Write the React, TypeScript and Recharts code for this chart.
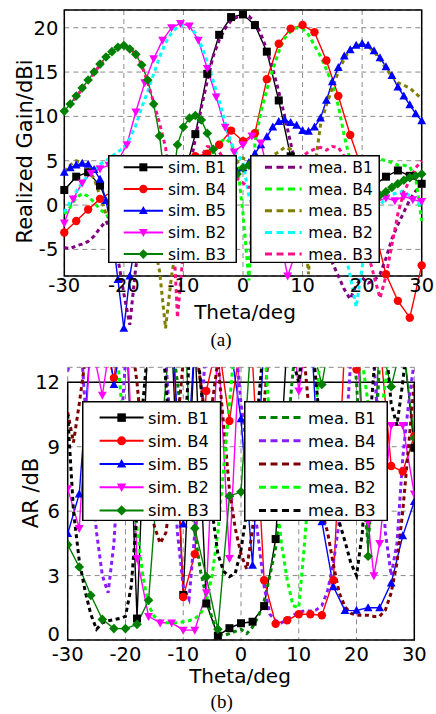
import React from 'react';
import { LineChart, Line, XAxis, YAxis, CartesianGrid, ReferenceArea } from 'recharts';

const FONT = "'DejaVu Sans', 'Liberation Sans', sans-serif";

// ---------- angle grids ----------
const thetaStep2 = [-30, -28, -26, -24, -22, -20, -18, -16, -14, -12, -10, -8, -6, -4, -2, 0, 2, 4, 6, 8, 10, 12, 14, 16, 18, 20, 22, 24, 26, 28, 30];
const thetaStep1 = [-30, -29, -28, -27, -26, -25, -24, -23, -22, -21, -20, -19, -18, -17, -16, -15, -14, -13, -12, -11, -10, -9, -8, -7, -6, -5, -4, -3, -2, -1, 0, 1, 2, 3, 4, 5, 6, 7, 8, 9, 10, 11, 12, 13, 14, 15, 16, 17, 18, 19, 20, 21, 22, 23, 24, 25, 26, 27, 28, 29, 30];
const thetaStep15 = [-30, -28.5, -27, -25.5, -24, -22.5, -21, -19.5, -18, -16.5, -15, -13.5, -12, -10.5, -9, -7.5, -6, -4.5, -3, -1.5, 0, 1.5, 3, 4.5, 6, 7.5, 9, 10.5, 12, 13.5, 15, 16.5, 18, 19.5, 21, 22.5, 24, 25.5, 27, 28.5, 30];
const thetaB2AR = [-30, -28, -26, -24, -22, -20, -18, -16, -14, -12, -10, -8, -6, -4, -2, 0, 2, 4, 6, 8, 10, 12, 14, 16, 18, 20, 22, 23, 24, 26, 28, 30];

// ---------- tick labels / tick marks ----------
const thetaTicks = [-30, -20, -10, 0, 10, 20, 30];
const thetaMarks = [-25, -20, -15, -10, -5, 0, 5, 10, 15, 20, 25];
const gainTicks = [-5, 0, 5, 10, 15, 20];
const gainMarks = [-7.5, -5, -2.5, 0, 2.5, 5, 7.5, 10, 12.5, 15, 17.5, 20];
const arTicks = [0, 3, 6, 9, 12];
const arMarks = [1.5, 3, 4.5, 6, 7.5, 9, 10.5];

// ---------- (a) realized gain, simulated ----------
const gainSimB1 = [1.7, 3.2, 3.7, 2.2, -1.0, -4.0, -3.0, -1.0, -2.0, -1.0, 3.0, 8.0, 14.8, 19.2, 21.2, 21.5, 20.3, 17.3, 11.8, 5.5, -2.0, -6.0, -3.0, -1.0, 0.0, 1.0, 2.2, 3.2, 3.9, 3.3, 2.4];
const gainSimB4 = [-3.1, -1.8, -0.5, 0.7, 1.5, 1.0, 0.0, -1.0, 0.5, 2.0, 4.0, 5.5, 5.8, 6.8, 8.4, 7.2, 8.1, 14.2, 18.2, 19.9, 20.3, 19.5, 16.3, 12.3, 7.9, 4.0, -2.5, -7.8, -10.8, -12.7, -6.8];
const gainSimB5 = [3.7, 4.2, 4.5, 4.7, 4.6, 4.0, 2.9, 0.5, -3.0, -8.4, -13.9, -8.0, -4.0, -2.0, -1.0, 0.0, 0.5, 0.8, 1.0, 1.2, 1.5, 1.8, 2.0, 2.5, 3.0, 3.2, 3.5, 3.6, 3.6, 3.8, 4.2, 4.8, 5.8, 6.8, 7.7, 8.8, 9.4, 9.6, 9.3, 9.0, 8.4, 8.3, 8.8, 9.8, 11.8, 13.9, 15.5, 16.8, 17.5, 18.0, 18.2, 18.0, 17.4, 16.6, 15.6, 14.6, 13.3, 12.3, 11.3, 10.3, 9.5];
const gainSimB2 = [-2.0, 0.7, 2.5, 3.6, 4.1, 4.5, 5.0, 6.8, 10.5, 13.8, 16.5, 18.6, 20.0, 20.5, 20.2, 18.6, 15.4, 12.2, 8.8, 6.0, 6.8, 7.8, 7.0, 3.0, -3.0, -8.0, -5.0, -3.0, -2.0, -1.5, -1.0, -0.5, 0.0, 0.3, 0.5, 0.4, 0.8, 0.5, 1.0, 0.6, 0.4];
const gainSimB3 = [10.6, 11.4, 12.3, 13.2, 14.1, 15.0, 15.9, 16.7, 17.3, 17.8, 18.0, 17.6, 17.0, 15.8, 14.1, 11.4, 7.8, 2.0, 1.5, 6.8, 8.8, 9.8, 10.1, 9.6, 8.1, 6.3, 4.8, 3.5, 3.0, 3.5, 4.2, 4.5, 4.0, 2.0, 0.0, -1.0, -2.0, -1.5, -1.0, -0.5, 0.0, 0.5, 1.0, 0.5, 0.0, -0.5, -1.0, -0.5, 0.0, 0.3, 0.5, 0.7, 0.9, 1.1, 1.5, 2.0, 2.4, 2.8, 3.1, 3.3, 3.5];

// ---------- (a) realized gain, measured ----------
const gainMeaB1 = [-4.8, -4.9, -4.6, -4.4, -4.1, -3.5, -2.6, -1.8, -3.0, -6.0, -10.0, -13.5, -7.0, -3.0, -1.0, 0.0, 0.5, 1.0, 0.0, -1.0, 1.0, 4.0, 7.5, 11.0, 14.0, 16.8, 18.6, 19.9, 20.8, 21.2, 21.4, 21.3, 20.6, 19.3, 17.5, 15.3, 12.8, 10.0, 7.0, 4.0, 1.0, -2.0, -4.0, -4.5, -5.0, -6.5, -8.0, -9.5, -10.6, -9.0, -8.2, -8.8, -8.5, -7.8, -6.0, -3.8, -2.2, -0.8, 0.6, 1.6, 2.0];
const gainMeaB4 = [-1.0, -0.2, 0.8, 1.3, 1.0, 0.3, -0.5, -1.0, -2.0, -3.0, -3.5, -3.0, -2.0, -1.5, -1.0, -0.5, 0.0, 0.5, 1.0, 2.0, 3.0, 3.5, 4.0, 4.5, 5.0, 6.0, 7.0, 7.5, 7.0, 5.0, -1.0, -8.5, 7.0, 10.5, 13.0, 15.3, 17.3, 18.8, 19.6, 20.0, 19.9, 19.2, 18.0, 16.8, 15.3, 13.6, 11.2, 7.8, 5.0, 3.5, 3.8, 4.5, 5.0, 5.2, 5.0, 4.8, 4.5, 4.5, 4.3, 3.0, -1.8];
const gainMeaB5 = [3.8, 4.5, 5.0, 4.8, 4.0, 3.0, 1.0, -1.0, -2.0, -1.0, 0.0, 0.5, 0.0, -1.0, -2.0, -4.0, -7.5, -13.9, -8.0, -4.0, -2.0, -1.0, 0.0, 1.0, 2.0, 2.5, 3.0, 3.5, 4.0, 4.8, 5.3, 5.0, 4.6, 4.8, 5.2, 5.6, 6.0, 6.5, 6.3, 5.0, 0.0, -7.8, 4.0, 9.0, 11.3, 13.2, 15.0, 16.5, 17.5, 18.0, 18.1, 17.9, 17.3, 16.4, 15.4, 14.5, 13.8, 13.5, 13.2, 12.6, 12.0];
const gainMeaB2 = [-0.8, 0.4, 1.5, 2.6, 3.3, 4.0, 4.6, 5.0, 5.5, 6.0, 6.5, 7.5, 9.0, 11.0, 12.8, 14.8, 16.7, 18.3, 19.4, 20.1, 20.3, 20.1, 19.4, 18.0, 16.2, 14.0, 11.8, 9.3, 7.0, 5.8, 4.8, 1.0, -1.0, -2.0, -3.0, -3.5, -4.0, -5.0, -3.5, -2.5, -3.0, -4.0, -3.0, -2.0, -1.5, -2.0, -3.0, -5.0, -8.0, -11.5, -7.0, -3.0, -1.0, 0.0, 0.8, 1.2, 1.4, 1.6, 1.0, 0.3, 0.0];
const gainMeaB3 = [10.5, 11.3, 12.2, 13.1, 14.0, 14.9, 15.8, 16.6, 17.2, 17.7, 17.9, 17.7, 17.0, 15.8, 13.8, 11.6, 9.2, 6.5, 1.0, -12.7, -5.0, 0.0, 3.0, 5.5, 6.6, 6.5, 6.0, 5.0, 4.0, 3.0, 2.5, 2.0, 2.0, 2.5, 3.0, 3.5, 4.0, 4.5, 4.8, 5.0, 5.5, 6.0, 6.3, 6.5, 6.2, 6.6, 6.5, 5.5, 3.5, 0.5, -3.0, -5.5, -8.0, -10.5, -8.0, -4.5, -1.0, 1.5, 2.8, 4.2, 5.0];

// ---------- (b) axial ratio, simulated ----------
const arSimB1 = [14, 16, 13.5, 15, 14, 16, 1.0, 15, 17, 14, 2.1, 14, 1.7, 0.2, 0.55, 0.78, 0.85, 1.58, 4.7, 14, 16, 13.5, 15, 14, 16, 13.5, 15, 14, 16, 14, 8.95];
const arSimB4 = [16, 14, 17, 14, 12.2, 16, 14, 17, 15, 16, 2.0, 4.0, 11.6, 14, 10.2, 14, 13, 2.78, 0.76, 0.92, 1.2, 1.2, 1.15, 2.78, 14, 12.6, 16, 14, 8.1, 7.85, 9.5];
const arSimB5 = [4.95, 6.8, 14, 16, 11.9, 15, 14, 16, 14, 15, 5.4, 14, 15, 16, 14, 10.3, 3.48, 14, 15, 17, 14, 15, 5.5, 2.48, 1.37, 1.38, 1.5, 1.5, 2.65, 4.85, 6.45];
const arSimB2 = [7.05, 5.2, 14, 11.4, 15, 16, 3.8, 1.1, 0.8, 0.8, 0.46, 0.46, 2.2, 14, 3.8, 15, 16, 14, 15, 17, 11.6, 15, 16, 14, 15, 14, 5.5, 3.0, 4.5, 10.0, 10.0, 6.8];
const arSimB3 = [4.44, 3.4, 2.08, 0.96, 0.53, 0.53, 0.73, 1.85, 9, 15, 16, 5.2, 2.94, 0.5, 6.7, 6.9, 15, 16, 14, 15, 16, 14, 11.9, 15, 14, 16, 3.9, 14, 11.8, 14, 9.4];

// ---------- (b) axial ratio, measured ----------
const arMeaB1 = [15, 14, 15, 16, 14, 15, 13, 15, 16, 14, 15, 16, 14, 15, 13, 14, 16, 15, 14, 12, 9.5, 7, 5, 3.2, 2.0, 1.0, 0.3, 0.2, 0.3, 0.4, 0.5, 0.3, 0.6, 1.1, 1.8, 3.0, 4.3, 6.5, 9.5, 12.5, 15, 14, 15, 16, 14, 13, 15, 16, 14, 15, 12, 7, 4.5, 8, 13, 15, 16, 14, 15, 16, 14];
const arMeaB4 = [12.5, 14, 15, 11, 8, 5.0, 3.0, 2.2, 4.5, 9, 13, 15, 14, 16, 14, 15, 16, 13, 9, 5, 2.5, 1.9, 5, 10, 14, 15, 13, 14, 16, 14, 11, 9, 7, 4.7, 2.5, 1.2, 0.9, 0.8, 0.95, 1.15, 1.3, 1.35, 1.35, 1.4, 1.6, 2.3, 3.6, 5.5, 9, 13, 15, 14, 16, 13, 9, 5, 3.0, 4.5, 8.5, 11, 13];
const arMeaB5 = [10.6, 9.2, 11, 13, 15, 14, 13, 15, 16, 14, 13, 14, 12, 9, 7, 5.3, 4.5, 5.0, 7, 10, 13, 15, 14, 12, 10, 11, 13, 10, 7, 5.2, 4.0, 3.3, 5.2, 8, 11, 14, 15, 13, 14, 16, 14, 13, 10, 7.5, 6, 5.0, 3.5, 2.2, 1.55, 1.25, 1.15, 1.15, 1.15, 1.1, 1.1, 1.4, 2.2, 3.6, 6, 9, 12];
const arMeaB2 = [13, 15, 14, 16, 15, 13, 14, 16, 15, 12, 9, 7, 5.2, 3.0, 1.6, 1.1, 0.9, 0.8, 0.8, 0.8, 0.85, 0.9, 1.0, 1.2, 1.8, 3.0, 5.0, 8.0, 11, 14, 15, 13, 14, 16, 14, 10, 7, 4.5, 2.8, 1.6, 1.5, 4.5, 8, 11, 14, 16, 15, 13, 14, 16, 15, 13, 11, 9, 10, 12, 14, 16, 15, 13, 14];
const arMeaB3 = [10.5, 6.0, 3.7, 2.3, 1.2, 0.5, 0.8, 0.9, 0.95, 1.0, 1.1, 2.5, 6, 11, 14, 13, 15, 12, 8, 6, 8, 13, 15, 12, 9, 6, 4, 3.2, 2.95, 3.1, 4.2, 6, 8, 11, 14, 15, 13, 14, 16, 13, 12, 14, 15, 12, 9, 7, 6, 5.5, 4.6, 3.6, 3.0, 5, 9, 12.5, 15, 14, 11, 10, 12, 14.5, 13];

// ---------- styles ----------
const COL = {
  black: '#000000', red: '#ff0000', blue: '#0000ff', magenta: '#ff00ff', green: '#008000',
  purple: '#800080', lime: '#00ff00', olive: '#808000', cyan: '#00ffff', pink: '#ff1089',
  violet: '#8b1cff', maroon: '#800000',
};

type Shape = 'square' | 'circle' | 'up' | 'down' | 'diamond';
interface Series { id: string; label: string; color: string; shape?: Shape; xs: number[]; ys: number[]; }

const simA: Series[] = [
  { id: 'a-sim-b1', label: 'sim. B1', color: COL.black, shape: 'square', xs: thetaStep2, ys: gainSimB1 },
  { id: 'a-sim-b4', label: 'sim. B4', color: COL.red, shape: 'circle', xs: thetaStep2, ys: gainSimB4 },
  { id: 'a-sim-b5', label: 'sim. B5', color: COL.blue, shape: 'up', xs: thetaStep1, ys: gainSimB5 },
  { id: 'a-sim-b2', label: 'sim. B2', color: COL.magenta, shape: 'down', xs: thetaStep15, ys: gainSimB2 },
  { id: 'a-sim-b3', label: 'sim. B3', color: COL.green, shape: 'diamond', xs: thetaStep1, ys: gainSimB3 },
];
const meaA: Series[] = [
  { id: 'a-mea-b1', label: 'mea. B1', color: COL.purple, xs: thetaStep1, ys: gainMeaB1 },
  { id: 'a-mea-b4', label: 'mea. B4', color: COL.lime, xs: thetaStep1, ys: gainMeaB4 },
  { id: 'a-mea-b5', label: 'mea. B5', color: COL.olive, xs: thetaStep1, ys: gainMeaB5 },
  { id: 'a-mea-b2', label: 'mea. B2', color: COL.cyan, xs: thetaStep1, ys: gainMeaB2 },
  { id: 'a-mea-b3', label: 'mea. B3', color: COL.pink, xs: thetaStep1, ys: gainMeaB3 },
];
const simB: Series[] = [
  { id: 'b-sim-b1', label: 'sim. B1', color: COL.black, shape: 'square', xs: thetaStep2, ys: arSimB1 },
  { id: 'b-sim-b4', label: 'sim. B4', color: COL.red, shape: 'circle', xs: thetaStep2, ys: arSimB4 },
  { id: 'b-sim-b5', label: 'sim. B5', color: COL.blue, shape: 'up', xs: thetaStep2, ys: arSimB5 },
  { id: 'b-sim-b2', label: 'sim. B2', color: COL.magenta, shape: 'down', xs: thetaB2AR, ys: arSimB2 },
  { id: 'b-sim-b3', label: 'sim. B3', color: COL.green, shape: 'diamond', xs: thetaStep2, ys: arSimB3 },
];
const meaB: Series[] = [
  { id: 'b-mea-b1', label: 'mea. B1', color: COL.green, xs: thetaStep1, ys: arMeaB1 },
  { id: 'b-mea-b4', label: 'mea. B4', color: COL.violet, xs: thetaStep1, ys: arMeaB4 },
  { id: 'b-mea-b5', label: 'mea. B5', color: COL.maroon, xs: thetaStep1, ys: arMeaB5 },
  { id: 'b-mea-b2', label: 'mea. B2', color: COL.lime, xs: thetaStep1, ys: arMeaB2 },
  { id: 'b-mea-b3', label: 'mea. B3', color: COL.black, xs: thetaStep1, ys: arMeaB3 },
];

const toRows = (xs: number[], ys: number[]) => xs.map((x, i) => ({ x, y: ys[i] }));

function MarkerShape({ cx, cy, shape, color, size }: { cx: number; cy: number; shape: Shape; color: string; size: number }) {
  const h = size / 2;
  switch (shape) {
    case 'square':
      return <rect x={cx - h} y={cy - h} width={size} height={size} fill={color} />;
    case 'circle':
      return <circle cx={cx} cy={cy} r={h * 1.05} fill={color} />;
    case 'up':
      return <polygon points={`${cx},${cy - h * 1.15} ${cx + h * 1.1},${cy + h * 0.85} ${cx - h * 1.1},${cy + h * 0.85}`} fill={color} />;
    case 'down':
      return <polygon points={`${cx},${cy + h * 1.15} ${cx + h * 1.1},${cy - h * 0.85} ${cx - h * 1.1},${cy - h * 0.85}`} fill={color} />;
    case 'diamond':
    default:
      return <polygon points={`${cx},${cy - h * 1.2} ${cx + h * 1.2},${cy} ${cx},${cy + h * 1.2} ${cx - h * 1.2},${cy}`} fill={color} />;
  }
}

const dotRenderer = (s: Series, size: number) => (p: any) => {
  const key = `${s.id}-${p.index}`;
  if (p.cx == null || p.cy == null || Number.isNaN(p.cx) || Number.isNaN(p.cy)) return <g key={key} />;
  return (
    <g key={key}>
      <MarkerShape cx={p.cx} cy={p.cy} shape={s.shape as Shape} color={s.color} size={size} />
    </g>
  );
};

function simLine(s: Series, size: number) {
  return (
    <Line key={s.id} xAxisId="main" yAxisId="main" data={toRows(s.xs, s.ys)} dataKey="y" type="linear" stroke={s.color} strokeWidth={1.4}
      dot={dotRenderer(s, size)} activeDot={false} isAnimationActive={false} legendType="none" />
  );
}
function meaLine(s: Series) {
  return (
    <Line key={s.id} xAxisId="main" yAxisId="main" data={toRows(s.xs, s.ys)} dataKey="y" type="linear" stroke={s.color} strokeWidth={3}
      strokeDasharray="4 3.5" dot={false} activeDot={false} isAnimationActive={false} legendType="none" />
  );
}

const tickStyle = { fontSize: 19.5, fill: '#000', fontFamily: FONT };
const markLine = { stroke: '#000', strokeWidth: 1 };

// the "0" label of the AR axis sits just above the bottom frame, as in the figure
const arYTick = (p: any) => (
  <text x={p.x} y={p.y + (p.payload.value === 0 ? -6 : 0)} dy="0.355em" textAnchor="end"
    fontSize={19.5} fontFamily={FONT} fill="#000">{p.payload.value}</text>
);

function LegendBox({ left, top, width, height, items, firstY, gap, x1, x2, textX, fontSize, measured, markerSize }:
  { left: number; top: number; width: number; height: number; items: Series[]; firstY: number; gap: number; x1: number; x2: number; textX: number; fontSize: number; measured: boolean; markerSize: number }) {
  return (
    <svg style={{ position: 'absolute', left, top }} width={width} height={height}>
      <rect x={0.75} y={0.75} width={width - 1.5} height={height - 1.5} fill="#fff" stroke="#000" strokeWidth={1.5} />
      {items.map((it, i) => {
        const y = firstY + i * gap;
        return (
          <g key={it.id}>
            {measured ? (
              <line x1={x1} x2={x2} y1={y} y2={y} stroke={it.color} strokeWidth={3} strokeDasharray="7 4.5" />
            ) : (
              <>
                <line x1={x1} x2={x2} y1={y} y2={y} stroke={it.color} strokeWidth={2} />
                <MarkerShape cx={(x1 + x2) / 2} cy={y} shape={it.shape as Shape} color={it.color} size={markerSize} />
              </>
            )}
            <text x={textX} y={y + fontSize * 0.37} fontSize={fontSize} fontFamily={FONT} fill="#000">{it.label}</text>
          </g>
        );
      })}
    </svg>
  );
}

export default function App() {
  return (
    <div style={{ position: 'absolute', left: 0, top: 0, width: 436, height: 714, background: '#fff', overflow: 'hidden' }}>
      <style>{`.gain-chart [clip-path]{clip-path:none !important;} .gain-chart svg{overflow:visible;}`}</style>

      {/* (a) realized gain */}
      <div className="gain-chart" style={{ position: 'absolute', left: 0, top: 0 }}>
        <LineChart width={436} height={306} margin={{ top: 10, right: 14.3, bottom: 0, left: 0 }}>
          <CartesianGrid xAxisId="main" yAxisId="main" stroke="#8a8a8a" strokeDasharray="5 4" strokeWidth={1} />
          {/* inward tick marks on the frame */}
          <XAxis xAxisId="markBottom" orientation="bottom" mirror type="number" domain={[-30, 30]} ticks={thetaMarks} allowDataOverflow interval={0}
            height={0} axisLine={false} tick={false} tickLine={markLine} tickSize={4} />
          <XAxis xAxisId="markTop" orientation="top" mirror type="number" domain={[-30, 30]} ticks={thetaMarks} allowDataOverflow interval={0}
            height={0} axisLine={false} tick={false} tickLine={markLine} tickSize={4} />
          <YAxis yAxisId="markLeft" orientation="left" mirror type="number" domain={[-8, 22]} ticks={gainMarks} allowDataOverflow interval={0}
            width={0} axisLine={false} tick={false} tickLine={markLine} tickSize={4} />
          <YAxis yAxisId="markRight" orientation="right" mirror type="number" domain={[-8, 22]} ticks={gainMarks} allowDataOverflow interval={0}
            width={0} axisLine={false} tick={false} tickLine={markLine} tickSize={4} />
          <XAxis xAxisId="main" type="number" dataKey="x" domain={[-30, 30]} ticks={thetaTicks} allowDataOverflow interval={0}
            axisLine={false} tickLine={false} tickSize={0} tickMargin={2} height={30} tick={tickStyle} />
          <YAxis yAxisId="main" type="number" domain={[-8, 22]} ticks={gainTicks} allowDataOverflow interval={0}
            axisLine={false} tickLine={false} tickSize={0} tickMargin={6} width={64.3} tick={tickStyle} />
          <ReferenceArea xAxisId="main" yAxisId="main" x1={-30} x2={30} y1={-8} y2={22} fill="none" fillOpacity={0} stroke="#000" strokeWidth={1.5} />
          {simA.map((s) => simLine(s, 8))}
          {meaA.map((s) => meaLine(s))}
        </LineChart>
      </div>

      {/* (b) axial ratio */}
      <div className="ar-chart" style={{ position: 'absolute', left: 0, top: 360 }}>
        <LineChart width={436} height={308} margin={{ top: 7.3, right: 21.7, bottom: 0, left: 0 }}>
          <CartesianGrid xAxisId="main" yAxisId="main" stroke="#8a8a8a" strokeDasharray="5 4" strokeWidth={1} />
          <XAxis xAxisId="markBottom" orientation="bottom" mirror type="number" domain={[-30, 30]} ticks={thetaMarks} allowDataOverflow interval={0}
            height={0} axisLine={false} tick={false} tickLine={markLine} tickSize={4} />
          <YAxis yAxisId="markLeft" orientation="left" mirror type="number" domain={[0, 12.7]} ticks={arMarks} allowDataOverflow interval={0}
            width={0} axisLine={false} tick={false} tickLine={markLine} tickSize={4} />
          <YAxis yAxisId="markRight" orientation="right" mirror type="number" domain={[0, 12.7]} ticks={arMarks} allowDataOverflow interval={0}
            width={0} axisLine={false} tick={false} tickLine={markLine} tickSize={4} />
          <XAxis xAxisId="main" type="number" dataKey="x" domain={[-30, 30]} ticks={thetaTicks} allowDataOverflow interval={0}
            axisLine={false} tickLine={false} tickSize={0} tickMargin={7} height={28} tick={tickStyle} />
          <YAxis yAxisId="main" type="number" domain={[0, 12.7]} ticks={arTicks} allowDataOverflow interval={0}
            axisLine={false} tickLine={false} tickSize={0} tickMargin={7.7} width={67.7} tick={arYTick} />
          <ReferenceArea xAxisId="main" yAxisId="main" x1={-30} x2={30} y1={0} y2={12} fill="none" fillOpacity={0} stroke="#000" strokeWidth={1.5} />
          {simB.map((s) => simLine(s, 8))}
          {meaB.map((s) => meaLine(s))}
        </LineChart>
      </div>

      {/* legends */}
      <LegendBox left={108.3} top={155} width={129} height={108.3} items={simA} firstY={12.3} gap={21.7}
        x1={15.7} x2={55} textX={60} fontSize={15.5} measured={false} markerSize={8} />
      <LegendBox left={250} top={155} width={130} height={108.3} items={meaA} firstY={12.3} gap={21.7}
        x1={15} x2={51.7} textX={58.3} fontSize={15.5} measured markerSize={8} />
      <LegendBox left={81.7} top={400.7} width={139.3} height={120.3} items={simB} firstY={16.6} gap={23.2}
        x1={17.6} x2={61.6} textX={66} fontSize={16.3} measured={false} markerSize={8.5} />
      <LegendBox left={244.3} top={400.7} width={144} height={120.3} items={meaB} firstY={16.6} gap={23.2}
        x1={15} x2={57.4} textX={64} fontSize={16.3} measured markerSize={8.5} />

      {/* titles */}
      <svg style={{ position: 'absolute', left: 0, top: 0, pointerEvents: 'none' }} width={436} height={714}>
        <text transform="translate(31.5,151.5) rotate(-90)" textAnchor="middle" fontSize={21} fontFamily={FONT} fill="#000">Realized Gain/dBi</text>
        <text x={245} y={319} textAnchor="middle" fontSize={20} fontFamily={FONT} fill="#000">Theta/deg</text>
        <text x={221} y={346} textAnchor="middle" fontSize={19} fontFamily="'Liberation Serif', 'Times New Roman', serif" fill="#000">(a)</text>
        <text transform="translate(38,493) rotate(-90)" textAnchor="middle" fontSize={21} fontFamily={FONT} fill="#000">AR /dB</text>
        <text x={240} y={683} textAnchor="middle" fontSize={20} fontFamily={FONT} fill="#000">Theta/deg</text>
        <text x={221.7} y={708} textAnchor="middle" fontSize={19} fontFamily="'Liberation Serif', 'Times New Roman', serif" fill="#000">(b)</text>
      </svg>
    </div>
  );
}
